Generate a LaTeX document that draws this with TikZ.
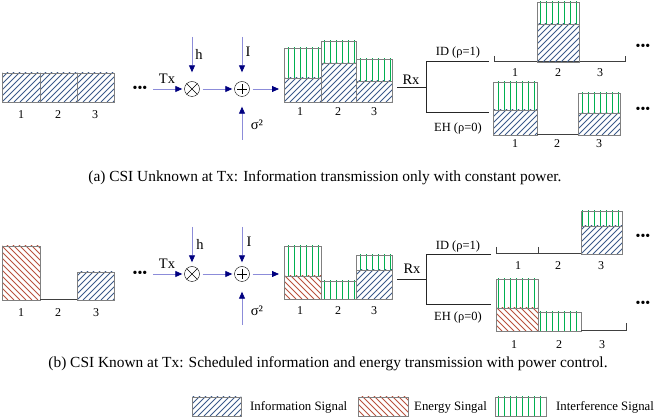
\documentclass[tikz,border=0pt]{standalone}
\usepackage{fontspec}
\setmainfont{Liberation Serif}
\usetikzlibrary{arrows.meta}
\definecolor{infoblue}{HTML}{3C5A8A}
\definecolor{energyred}{HTML}{B8523E}
\definecolor{intfgreen}{HTML}{00B050}
\definecolor{boxgray}{HTML}{808080}
\definecolor{sigline}{HTML}{8C8CD9}
\definecolor{sighead}{HTML}{000080}

\begin{document}
\begin{tikzpicture}[x=1pt, y=-1pt,
    info/.style={draw=boxgray, line width=.6pt, path picture={
        \foreach \k in {-10,...,9}
          \draw[infoblue, line width=.8pt, shift={(path picture bounding box.south west)}] (\k*6pt,0pt) -- ++(45:80pt);}},
    energy/.style={draw=boxgray, line width=.6pt, path picture={
        \foreach \k in {0,...,18}
          \draw[energyred, line width=.8pt, shift={(path picture bounding box.south west)}] (\k*6pt,0pt) -- ++(135:80pt);}},
    intf/.style={draw=boxgray, line width=.6pt, path picture={
        \foreach \k in {0,...,109}
          \fill[intfgreen] (\k*6pt,0pt) rectangle ++(1.3pt,-420pt);}},
    sig/.style={-{Triangle[length=7pt, width=6pt, color=sighead]}, draw=sigline, line width=.8pt},
    op/.style={circle, draw, minimum size=15pt, inner sep=0pt},
    fork/.style={draw=black!85, line width=.9pt},
    axisl/.style={draw=black!75, line width=1pt},
    slot/.style={font=\fontsize{12}{14}\selectfont, inner sep=0pt},
    lbl/.style={font=\fontsize{14.5}{16}\selectfont, inner sep=0pt},
    branch/.style={font=\fontsize{12.5}{14}\selectfont, inner sep=0pt},
    more/.style={font=\fontsize{14}{16}\selectfont, inner sep=0pt},
    caption/.style={font=\fontsize{15.4}{18}\selectfont, inner sep=0pt},
    key/.style={font=\fontsize{12.8}{15}\selectfont, anchor=west, inner sep=0pt}
]
\useasboundingbox (0,0) rectangle (654,419);

% ---------- (a) CSI unknown ----------
\draw[info] (2,73) rectangle (40,102);
\draw[info] (40,73) rectangle (77,102);
\draw[info] (77,73) rectangle (114,102);
\foreach \x/\n in {21/1,58/2,95/3} \node[slot] (ina\n) at (\x,115) {\n};

\node[more] (dotsa) at (140,89) {•••};
\node[op] (mula) at (192,89) {};
\draw (mula.north east) -- (mula.south west) (mula.north west) -- (mula.south east);
\node[op] (adda) at (242,89) {};
\draw ([yshift=5pt]adda.center) -- ([yshift=-5pt]adda.center) ([xshift=-5pt]adda.center) -- ([xshift=5pt]adda.center);

\coordinate (txa) at (153,89);
\coordinate (ha) at (192,37);
\coordinate (ia) at (242,37);
\coordinate (noisea) at (242,140);
\coordinate (outa) at (279,89);
\draw[sig, shorten >=2pt] (txa) -- (mula);
\draw[sig, shorten <=3pt, shorten >=2pt] (mula) -- (adda);
\draw[sig, shorten >=9pt] (ha) -- (mula);
\draw[sig, shorten >=9pt] (ia) -- (adda);
\draw[sig, shorten >=10pt] (noisea) -- (adda);
\draw[sig, shorten <=3pt] (adda) -- (outa);
\node[lbl] (txla) at (167,79) {Tx};
\node[lbl] (hla) at (199,54) {h};
\node[lbl] (ila) at (248,52) {I};
\node[lbl] (nla) at (257,125) {σ²};

\draw[info] (284,78) rectangle (321,102);  \draw[intf] (284,48) rectangle (321,78);
\draw[info] (321,63) rectangle (356,102);  \draw[intf] (321,41) rectangle (356,63);
\draw[info] (356,81) rectangle (392,102);  \draw[intf] (356,59) rectangle (392,81);
\foreach \x/\n in {300/1,338/2,374/3} \node[slot] (rva\n) at (\x,112) {\n};

\node[lbl] (rxa) at (411,80) {Rx};
\coordinate (rxina) at (397,87);
\coordinate (splita) at (426,87);
\coordinate (ida) at (426,61);
\coordinate (eha) at (426,112);
\coordinate (idenda) at (489,61);
\coordinate (ehenda) at (489,112);
\draw[fork] (rxina) -- (splita);
\draw[fork] (idenda) -- (ida) -- (eha) -- (ehenda);
\node[branch] (idla) at (458,52) {ID (ρ=1)};
\node[branch] (ehla) at (458,128) {EH (ρ=0)};

\draw[axisl] (494,56) -- (494,62) -- (625,62) -- (625,56);
\draw[info] (537,24) rectangle (579,62);  \draw[intf] (537,2) rectangle (579,24);
\foreach \x/\n in {515/1,558/2,600/3} \node[slot] (ida\n) at (\x,73) {\n};
\node[more] (dotsida) at (643,47) {•••};

\draw[info] (493,110) rectangle (537,135);  \draw[intf] (493,82) rectangle (537,110);
\draw[axisl] (537,135) -- (578,135);
\draw[info] (578,113) rectangle (620,135);  \draw[intf] (578,93) rectangle (620,113);
\foreach \x/\n in {515/1,557/2,599/3} \node[slot] (eha\n) at (\x,144) {\n};
\node[more] (dotseha) at (643,110) {•••};

\node[caption] (capa) at (325,178) {(a) CSI Unknown at Tx: Information transmission only with constant power.};

% ---------- (b) CSI known ----------
\draw[energy] (2,246) rectangle (40,300);
\draw[axisl] (40,300) -- (77,300);
\draw[info] (77,272) rectangle (114,300);
\foreach \x/\n in {21/1,58/2,96/3} \node[slot] (inb\n) at (\x,313) {\n};

\node[more] (dotsb) at (140,274) {•••};
\node[op] (mulb) at (192,274) {};
\draw (mulb.north east) -- (mulb.south west) (mulb.north west) -- (mulb.south east);
\node[op] (addb) at (242,274) {};
\draw ([yshift=5pt]addb.center) -- ([yshift=-5pt]addb.center) ([xshift=-5pt]addb.center) -- ([xshift=5pt]addb.center);

\coordinate (txb) at (153,274);
\coordinate (hb) at (192,227);
\coordinate (ib) at (242,227);
\coordinate (noiseb) at (242,325);
\coordinate (outb) at (279,274);
\draw[sig, shorten >=2pt] (txb) -- (mulb);
\draw[sig, shorten <=3pt, shorten >=2pt] (mulb) -- (addb);
\draw[sig, shorten >=4pt] (hb) -- (mulb);
\draw[sig, shorten >=4pt] (ib) -- (addb);
\draw[sig, shorten >=10pt] (noiseb) -- (addb);
\draw[sig, shorten <=3pt] (addb) -- (outb);
\node[lbl] (txlb) at (167,264) {Tx};
\node[lbl] (hlb) at (200,244) {h};
\node[lbl] (ilb) at (249,242) {I};
\node[lbl] (nlb) at (257,311) {σ²};

\draw[energy] (284,276) rectangle (321,299);  \draw[intf] (284,246) rectangle (321,276);
\draw[intf] (321,281) rectangle (356,299);
\draw[info] (356,270) rectangle (392,299);  \draw[intf] (356,255) rectangle (392,270);
\foreach \x/\n in {300/1,338/2,374/3} \node[slot] (rvb\n) at (\x,311) {\n};

\node[lbl] (rxb) at (412,269) {Rx};
\coordinate (rxinb) at (397,279);
\coordinate (splitb) at (426,279);
\coordinate (idb) at (426,254);
\coordinate (ehb) at (426,304);
\coordinate (idendb) at (491,254);
\coordinate (ehendb) at (491,304);
\draw[fork] (rxinb) -- (splitb);
\draw[fork] (idendb) -- (idb) -- (ehb) -- (ehendb);
\node[branch] (idlb) at (458,246) {ID (ρ=1)};
\node[branch] (ehlb) at (458,317) {EH (ρ=0)};

\draw[axisl] (496,247) -- (496,254) -- (581,254);
\draw[axisl] (538,247) -- (538,254);
\draw[info] (581,226) rectangle (622,254);  \draw[intf] (581,211) rectangle (622,226);
\foreach \x/\n in {518/1,558/2,601/3} \node[slot] (idb\n) at (\x,266) {\n};
\node[more] (dotsidb) at (643,237) {•••};

\draw[energy] (496,308) rectangle (538,331);  \draw[intf] (496,279) rectangle (538,308);
\draw[intf] (538,312) rectangle (581,331);
\draw[axisl] (581,331) -- (626,331) -- (626,323);
\foreach \x/\n in {514/1,559/2,602/3} \node[slot] (ehb\n) at (\x,345) {\n};
\node[more] (dotsehb) at (643,304) {•••};

\node[caption] (capb) at (328,364) {(b) CSI Known at Tx: Scheduled information and energy transmission with power control.};

% ---------- legend ----------
\draw[info] (192,397) rectangle (241,416);
\node[key] (keyinfo) at (250,407) {Information Signal};
\draw[energy] (358,397) rectangle (408,416);
\node[key] (keyenergy) at (414,407) {Energy Singal};
\draw[intf] (495,397) rectangle (546,416);
\node[key] (keyintf) at (556,407) {Interference Signal};
\end{tikzpicture}
\end{document}
